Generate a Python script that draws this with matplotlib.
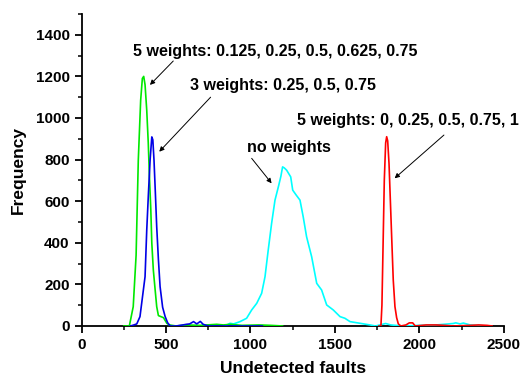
import numpy as np
import matplotlib
matplotlib.use('Agg')
import matplotlib.pyplot as plt
from matplotlib.ticker import MultipleLocator

plt.rcParams['font.family'] = ['Liberation Sans', 'DejaVu Sans']
plt.rcParams['font.weight'] = 'bold'

# 5 weights: 0.125, 0.25, 0.5, 0.625, 0.75
green_x = [250, 283, 306, 323, 336, 350, 360, 368, 376, 386, 395, 402, 410, 416, 425, 435, 445,
           455, 470, 485, 505, 520, 560, 620, 700, 800, 840, 880, 950, 1050, 1120, 1190]
green_y = [0, 0, 93, 340, 797, 1085, 1190, 1200, 1160, 1037, 880, 717, 560, 398, 269, 180, 93,
           50, 45, 40, 13, 5, 0, 5, 3, 8, 5, 8, 3, 5, 3, 0]

# 3 weights: 0.25, 0.5, 0.75
blue_x = [290, 310, 327, 346, 366, 376, 386, 396, 406, 416, 422, 429, 437, 445, 455, 465, 480,
          495, 510, 525, 560, 600, 620, 640, 663, 682, 703, 720, 750, 800, 900, 1000, 1070]
blue_y = [0, 5, 10, 45, 173, 237, 461, 637, 800, 909, 895, 797, 640, 477, 320, 189, 90,
          45, 15, 0, 0, 5, 8, 10, 21, 10, 22, 8, 0, 0, 0, 0, 0]

# no weights
cyan_x = [850, 879, 900, 938, 960, 977, 1007, 1037, 1066, 1086, 1105, 1125, 1145, 1165, 1180,
          1190, 1200, 1214, 1238, 1250, 1270, 1293, 1312, 1332, 1362, 1392, 1421, 1451, 1490,
          1530, 1559, 1589, 1648, 1707, 1740, 1780, 1800, 1830, 1900, 2000, 2100, 2200, 2215,
          2240, 2260, 2300, 2400]
cyan_y = [0, 13, 10, 21, 30, 37, 77, 109, 157, 237, 365, 493, 605, 669, 720,
          765, 760, 749, 717, 653, 630, 605, 525, 429, 333, 205, 173, 101, 77,
          45, 37, 21, 13, 5, 0, 8, 12, 5, 0, 3, 5, 12, 15,
          10, 14, 5, 0]

# 5 weights: 0, 0.25, 0.5, 0.75, 1
red_x = [1760, 1772, 1778, 1785, 1792, 1800, 1806, 1812, 1820, 1828, 1836, 1845, 1855, 1865,
         1875, 1890, 1920, 1940, 1960, 1975, 2040, 2100, 2150, 2200, 2300, 2350, 2400, 2430]
red_y = [0, 0, 100, 400, 700, 880, 910, 890, 780, 600, 420, 221, 93, 40,
         10, 0, 5, 15, 15, 0, 5, 5, 3, 0, 3, 5, 3, 0]

labels = ["5 weights: 0.125, 0.25, 0.5, 0.625, 0.75",
          "3 weights: 0.25, 0.5, 0.75",
          "no weights",
          "5 weights: 0, 0.25, 0.5, 0.75, 1"]
label_pos = [(305, 1319), (642, 1154), (977, 857), (1277, 990)]
arrow_tail = [(543, 1274), (764, 1100), (1007, 806), (2145, 918)]
arrow_head = [(405, 1159), (460, 838), (1125, 686), (1853, 710)]

fig = plt.figure(figsize=(5.28, 3.78), dpi=100)
ax = fig.add_axes([0.1544, 0.1376, 0.8, 0.8254])

ax.plot(cyan_x, cyan_y, color='#00ffff', lw=1.2, zorder=3)
ax.plot(red_x, red_y, color='#ff0000', lw=1.2, zorder=3)
ax.plot(green_x, green_y, color='#00e800', lw=1.2, zorder=3)
ax.plot(blue_x, blue_y, color='#0000e6', lw=1.2, zorder=4)

ax.set_xlim(0, 2500)
ax.set_ylim(0, 1500)
ax.xaxis.set_major_locator(MultipleLocator(500))
ax.xaxis.set_minor_locator(MultipleLocator(250))
ax.yaxis.set_minor_locator(MultipleLocator(100))
ax.set_yticks(np.arange(0, 1401, 200))
ax.spines['top'].set_visible(False)
ax.spines['right'].set_visible(False)
for s in ['left', 'bottom']:
    ax.spines[s].set_linewidth(1.3)
ax.tick_params(which='major', direction='out', length=5, width=1.3, labelsize=11)
ax.tick_params(which='minor', direction='out', length=3, width=1.1)

ax.set_xlabel("Undetected faults", fontsize=12.5, fontweight='bold')
ax.set_ylabel("Frequency", fontsize=12.5, fontweight='bold')
ax.xaxis.set_label_coords(0.5, -0.112)
ax.yaxis.set_label_coords(-0.132, 0.5)

for txt, pos in zip(labels, label_pos):
    ax.text(pos[0], pos[1], txt, fontsize=11.5, fontweight='bold', ha='left', va='center')
for tail, head in zip(arrow_tail, arrow_head):
    ax.annotate("", xy=head, xytext=tail,
                arrowprops=dict(arrowstyle='-|>', color='black', lw=0.7, mutation_scale=7,
                                shrinkA=0, shrinkB=0))

fig.savefig("out.png", dpi=100)
